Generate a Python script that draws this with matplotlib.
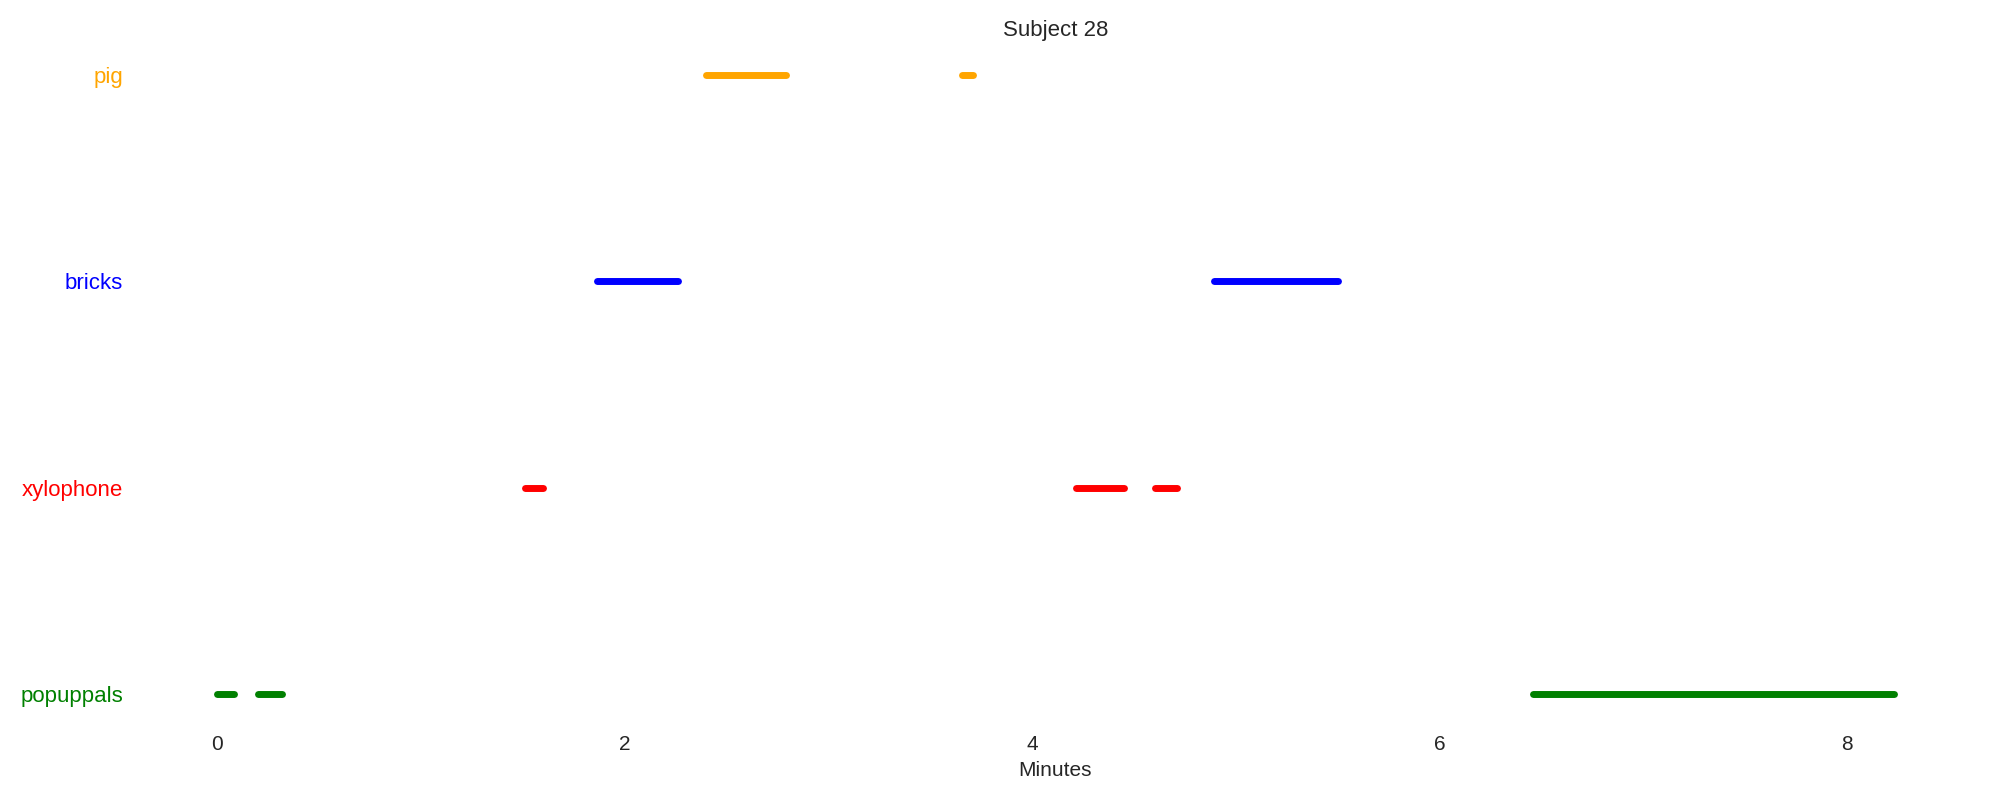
import matplotlib
matplotlib.use("Agg")
import matplotlib.pyplot as plt

plt.rcParams['font.family'] = ['Liberation Sans', 'DejaVu Sans']

categories = ["popuppals", "xylophone", "bricks", "pig"]
colors = ["green", "red", "blue", "orange"]
starts = [
    [0.00, 0.20, 6.46],
    [1.51, 4.215, 4.605],
    [1.865, 4.895],
    [2.40, 3.655],
]
ends = [
    [0.08, 0.32, 8.23],
    [1.60, 4.45, 4.71],
    [2.26, 5.50],
    [2.79, 3.71],
]
xticks = [0, 2, 4, 6, 8]

fig = plt.figure(figsize=(20, 8), dpi=100)
ax = fig.add_axes([0.0667, 0.09375, 0.922, 0.85125])

for i, (cat, col) in enumerate(zip(categories, colors)):
    for s, e in zip(starts[i], ends[i]):
        ax.plot([s, e], [i, i], color=col, lw=5, solid_capstyle='round')

ax.set_yticks(range(len(categories)))
ax.set_yticklabels(categories, fontsize=16)
for lab, col in zip(ax.get_yticklabels(), colors):
    lab.set_color(col)
ax.set_xticks(xticks)
ax.set_xticklabels([str(t) for t in xticks], fontsize=15, color='0.15')
ax.tick_params(axis='x', length=0, pad=7)
ax.tick_params(axis='y', length=0, pad=7.5)
for sp in ax.spines.values():
    sp.set_visible(False)
ax.set_xlabel("Minutes", fontsize=15, color='0.15', labelpad=5)
ax.set_title("Subject 28", fontsize=16, color='0.15')

fig.savefig("out.png", dpi=100)
